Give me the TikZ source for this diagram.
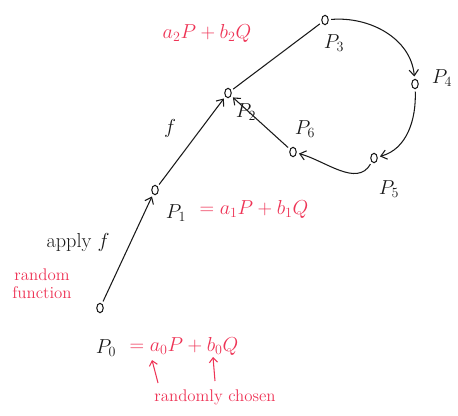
\documentclass[tikz,border=0pt]{standalone}
\usepackage{amsmath}
\usepackage{xcolor}
\usepackage{tikz}
\usetikzlibrary{positioning,arrows.meta,shapes.geometric}
\definecolor{penR}{RGB}{238,52,86}
\definecolor{penK}{RGB}{25,25,25}

\begin{document}
\begin{tikzpicture}[x=0.03cm,y=0.03cm,
  pt/.style={
    draw=penK, ellipse, line width=0.9pt,
    minimum width=5.5pt, minimum height=8pt, inner sep=0pt
  },
  lab/.style={font=\LARGE, text=penK},
  note/.style={font=\Large, text=penR, align=center},
  a/.style={-{Straight Barb[length=5pt,width=8pt]},line width=0.9pt,penK,
    shorten >=2pt, shorten <=2pt},
  ra/.style={-{Straight Barb[length=4pt,width=7pt]},line width=0.9pt,penR}
]
\useasboundingbox (0,0) rectangle (458,415);

% Points
\node[pt] (p0) at (100,107) {};
\node[pt] (p1) at (155,225) {};
\node[pt] (p2) at (228,322) {};
\node[pt] (p3) at (325,395) {};
\node[pt] (p4) at (415,331) {};
\node[pt] (p5) at (374,257) {};
\node[pt] (p6) at (293,263) {};

% Point labels
\node[lab] (l0) at (106,67) {$P_0$};
\node[lab] (l1) at (176,202) {$P_1$};
\node[lab] (l2) at (246,303) {$P_2$};
\node[lab] (l3) at (334,372) {$P_3$};
\node[lab] (l4) at (442,337) {$P_4$};
\node[lab] (l5) at (389,226) {$P_5$};
\node[lab] (l6) at (305,286) {$P_6$};

% Tail
\draw[a] (p0)--(p1);
\draw[a] (p1)--(p2);
\draw[line width=0.9pt,penK,shorten >=2pt,shorten <=2pt] (p2)--(p3);
% Cycle
\draw[a] (p3) to[out=5,in=95] (p4);
\draw[a] (p4) to[out=-88,in=15] (p5);
\draw[a] (p5) to[out=-120,in=-15] (p6);
\draw[a] (p6)--(p2);

% Edge texts
\node[lab] (tf) at (170,287) {$f$};
\node[lab] (tapply) at (78,172) {apply $f$};
\node[note] (trand) at (42,131) {random\\[-3pt]function};

% Red sums
\node[note,font=\LARGE] (s2) at (207,382) {$a_2P+b_2Q$};
\node[note,font=\LARGE] (s1) at (254,206) {$=a_1P+b_1Q$};
\node[note,font=\LARGE] (s0) at (184,69) {$=a_0P+b_0Q$};

% Randomly chosen
\node[note] (tchosen) at (215,18) {randomly chosen};
\coordinate (c1) at (158,32);
\coordinate (c2) at (215,34);
\coordinate (t1) at (152,55);
\coordinate (t2) at (213,58);
\draw[ra] (c1)--(t1);
\draw[ra] (c2)--(t2);
\end{tikzpicture}
\end{document}
